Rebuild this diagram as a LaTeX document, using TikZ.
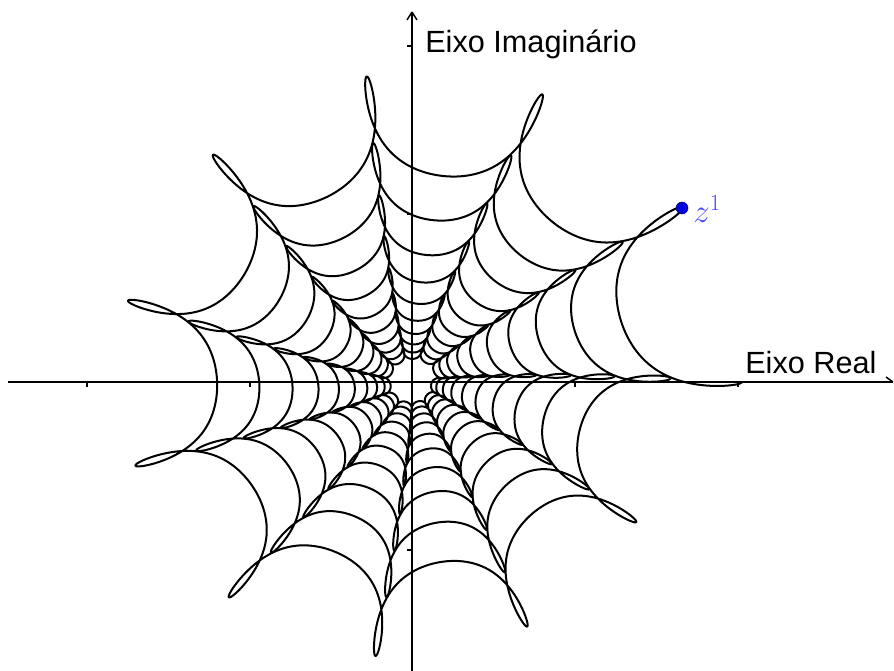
\documentclass[tikz,border=0pt]{standalone}
\usepackage{fontspec}
\setsansfont{Liberation Sans}
\usetikzlibrary{arrows.meta}
\definecolor{ptblue}{RGB}{0,0,220}
\definecolor{lblblue}{RGB}{70,70,255}
\tikzset{
  web/.style={line width=1.5pt, black, line join=round},
  axisline/.style={line width=1.1pt, black},
  tickmark/.style={line width=0.9pt, black},
  axislabel/.style={font=\sffamily\fontsize{23}{26}\selectfont, inner sep=0pt, anchor=base west},
}
\begin{document}
\begin{tikzpicture}[x=0.75pt,y=-0.75pt]
\useasboundingbox (0,0) rectangle (894,671);
% axes
\coordinate (O) at (412,382);
\coordinate (xl) at (8,382);
\coordinate (xr) at (893,382);
\coordinate (yb) at (412,671);
\coordinate (yt) at (412,12);
\draw[axisline] (xl) -- (xr);
\draw[axisline] (xr) -- ++(-7,-5);
\draw[axisline] (yb) -- (yt);
\draw[axisline] (yt) -- ++(-5,8) (yt) -- ++(5,8);
\foreach \tx in {87,250,575,738}{\draw[tickmark] (\tx,382) -- (\tx,387);}
\foreach \ty in {46,214,550}{\draw[tickmark] (412,\ty) -- (407,\ty);}
% web curve
\foreach \k in {0,...,9}{
  \pgfmathsetmacro\sc{330*exp(-0.0222*11*\k)}
  \pgfmathsetmacro\ro{360.8*\k}
  \draw[web] plot[domain=0:11, samples=881, variable=\t]
    ({412+\sc*exp(-0.0222*\t+0.2025*(cos(360*\t)-1))*cos(\ro+32.8*\t-7.932*sin(360*\t)+0.7932*sin(720*\t))},
     {382-\sc*exp(-0.0222*\t+0.2025*(cos(360*\t)-1))*sin(\ro+32.8*\t-7.932*sin(360*\t)+0.7932*sin(720*\t))});
}
% point z
\node[circle, fill=ptblue, draw=black!60!blue, line width=0.4pt, minimum size=9pt, inner sep=0pt] (z1) at (682,208) {};
\node[text=lblblue, anchor=west, inner sep=0pt, font=\fontsize{27}{30}\selectfont] (z1lbl) at (693,209) {$z^1$};
% labels
\node[axislabel] (ylbl) at (425,52) {Eixo Imaginário};
\node[axislabel] (xlbl) at (745,373) {Eixo Real};
\end{tikzpicture}
\end{document}
